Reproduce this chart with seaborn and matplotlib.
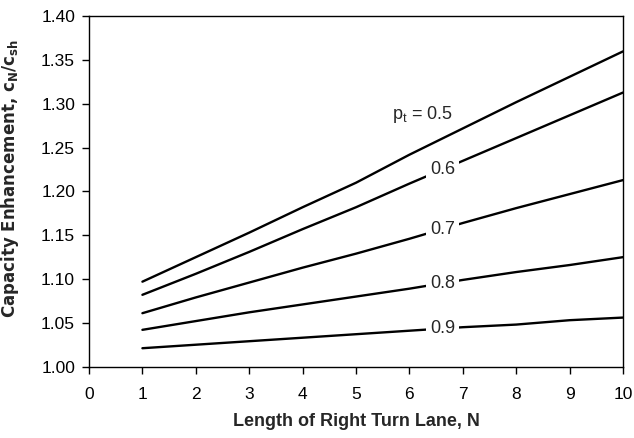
import numpy as np
import pandas as pd
import matplotlib
matplotlib.use("Agg")
import matplotlib.pyplot as plt
import seaborn as sns

N = [1, 2, 3, 4, 5, 6, 7, 8, 9, 10]
pt_05 = [1.097, 1.125, 1.153, 1.182, 1.210, 1.242, 1.272, 1.302, 1.331, 1.360]
pt_06 = [1.082, 1.106, 1.131, 1.157, 1.182, 1.209, 1.235, 1.261, 1.287, 1.313]
pt_07 = [1.061, 1.079, 1.096, 1.113, 1.129, 1.146, 1.164, 1.181, 1.197, 1.213]
pt_08 = [1.042, 1.052, 1.062, 1.071, 1.080, 1.089, 1.099, 1.108, 1.116, 1.125]
pt_09 = [1.021, 1.025, 1.029, 1.033, 1.037, 1.041, 1.045, 1.048, 1.053, 1.056]
pt_values = ["0.5", "0.6", "0.7", "0.8", "0.9"]
series = [pt_05, pt_06, pt_07, pt_08, pt_09]
x_ticks = list(range(0, 11))
y_ticks = [1.00, 1.05, 1.10, 1.15, 1.20, 1.25, 1.30, 1.35, 1.40]

df = pd.DataFrame({
    "N": N * len(series),
    "ratio": sum(series, []),
    "pt": [p for p in pt_values for _ in N],
})

sns.set_style("white")
plt.rcParams['font.family'] = ['Liberation Sans', 'DejaVu Sans']
plt.rcParams['mathtext.fontset'] = 'custom'
plt.rcParams['mathtext.rm'] = 'Liberation Sans'
plt.rcParams['mathtext.it'] = 'Liberation Sans'
plt.rcParams['mathtext.bf'] = 'DejaVu Sans:bold'

fig = plt.figure(figsize=(6.34, 4.38), dpi=100)
ax = fig.add_axes([0.1404, 0.163, 0.9826 - 0.1404, 0.9626 - 0.163])

sns.lineplot(data=df, x="N", y="ratio", hue="pt",
             palette=["black"] * len(pt_values), linewidth=1.7,
             legend=False, ax=ax)

ax.set_xlim(0, 10)
ax.set_ylim(1.0, 1.4)
ax.set_xticks(x_ticks)
ax.set_yticks(y_ticks)
ax.set_yticklabels([f"{v:.2f}" for v in y_ticks])
ax.tick_params(axis='both', which='major', direction='out', length=5,
               width=1, colors='black', labelsize=12.5, pad=5,
               bottom=True, left=True)
ax.tick_params(axis='x', pad=9.5)
for s in ax.spines.values():
    s.set_color('black')
    s.set_linewidth(1.0)

ax.set_xlabel("Length of Right Turn Lane, N", fontsize=13, fontweight='bold', labelpad=8)
ax.set_ylabel(r"Capacity Enhancement, $\mathbf{c_N/c_{sh}}$", fontsize=12,
              fontweight='bold', family=['DejaVu Sans'])
ax.yaxis.set_label_coords(-0.128, 0.538)

# inline labels
lab_x = 6.62
for p, s in zip(pt_values[1:], series[1:]):
    y = np.interp(lab_x, N, s)
    ax.text(lab_x, y, p, ha='center', va='center', fontsize=13,
            bbox=dict(boxstyle='square,pad=0.2', fc='white', ec='none'))
ax.text(6.25, 1.288, r"$p_t$ = 0.5", ha='center', va='center', fontsize=13)

fig.savefig("out.png", dpi=100)
